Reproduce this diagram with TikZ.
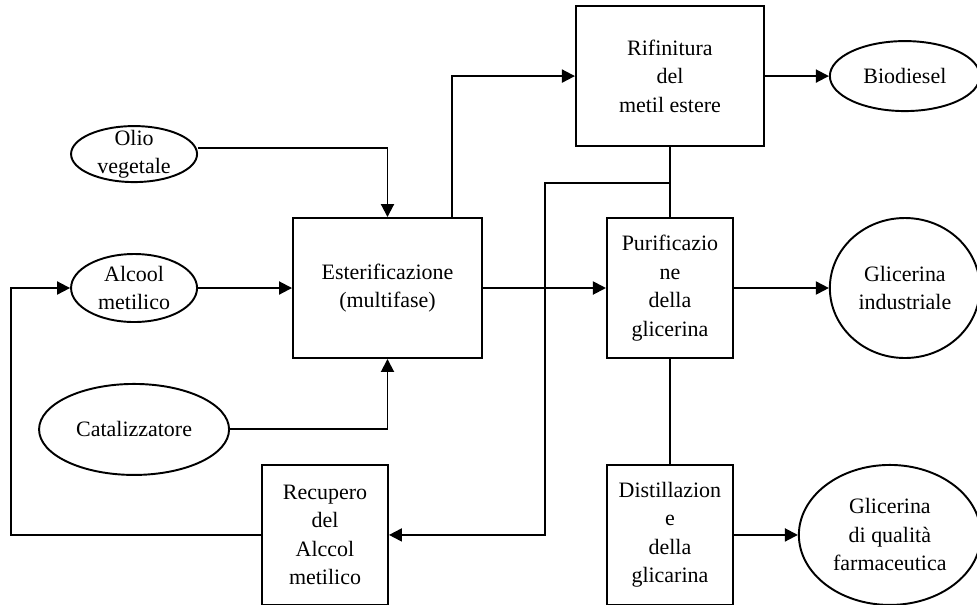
\documentclass[tikz,border=0pt]{standalone}
\usepackage{fontspec}
\setmainfont{Liberation Serif}
\usetikzlibrary{shapes.geometric, arrows.meta, positioning, calc}

\begin{document}
\begin{tikzpicture}[
  font=\fontsize{12.5pt}{16.2pt}\selectfont,
  line width=1.1pt,
  box/.style={draw, minimum height=28mm, minimum width=25.2mm, align=center, inner sep=0.5mm},
  bigbox/.style={box, minimum width=37.8mm},
  blob/.style={draw, ellipse, inner sep=0pt, align=center},
  arrow/.style={-{Triangle[length=2.6mm,width=2.6mm]}},
]
\useasboundingbox (0,0) rectangle (195.4mm,-120.8mm);

% Main reactor
\node[bigbox] (est) at (77.5mm,-57.6mm) {Esterificazione\\(multifase)};

% Inputs
\node[blob, minimum width=25.2mm, minimum height=13.6mm, left=18.8mm of est] (alcool) {Alcool\\metilico};
\node[blob, minimum width=25.2mm, minimum height=11.2mm, inner ysep=-1.3mm, above=14mm of alcool] (olio) {Olio\\vegetale};
\node[blob, minimum width=38mm, minimum height=18.2mm, below=12mm of alcool] (cat) {Catalizzatore};

% Process column
\node[box, right=24.6mm of est] (pur) {Purificazio\\ne\\della\\glicerina};
\node[bigbox, minimum width=37.6mm, above=14mm of pur] (rif) {Rifinitura\\del\\metil estere};
\node[box, below=21mm of pur] (dist) {Distillazion\\e\\della\\glicarina};
\node[box, left=43.4mm of dist] (rec) {Recupero\\del\\Alccol\\metilico};

% Products
\node[blob, minimum width=30mm, minimum height=14mm, right=12.8mm of rif] (bio) {Biodiesel};
\node[blob, minimum width=30mm, minimum height=28mm, right=19mm of pur] (gind) {Glicerina\\industriale};
\node[blob, minimum width=36.4mm, minimum height=28mm, right=12.8mm of dist] (gfar) {Glicerina\\di qualità\\farmaceutica};

% Arrows
\draw[arrow] ([yshift=1.2mm]olio.east) -| (est.north);
\draw[arrow] (alcool.east) -- (est.west);
\draw[arrow] (cat.east) -| (est.south);
\draw[arrow] ([xshift=-6.2mm]est.north east) |- (rif.west);
\draw[arrow] (rif.east) -- (bio.west);
\draw[arrow] (est.east) -- (pur.west);
\draw[arrow] (pur.east) -- (gind.west);
\draw[arrow] (dist.east) -- (gfar.west);
\draw (rif.south) -- (pur.north);
\draw (pur.south) -- (dist.north);

% Methanol recycle
\coordinate[below=7.2mm of rif.south] (split);
\draw[arrow] (split) -- ++(-25mm,0) |- (rec.east);
\draw[arrow] (rec.west) -- ++(-50mm,0) |- (alcool.west);
\end{tikzpicture}
\end{document}
